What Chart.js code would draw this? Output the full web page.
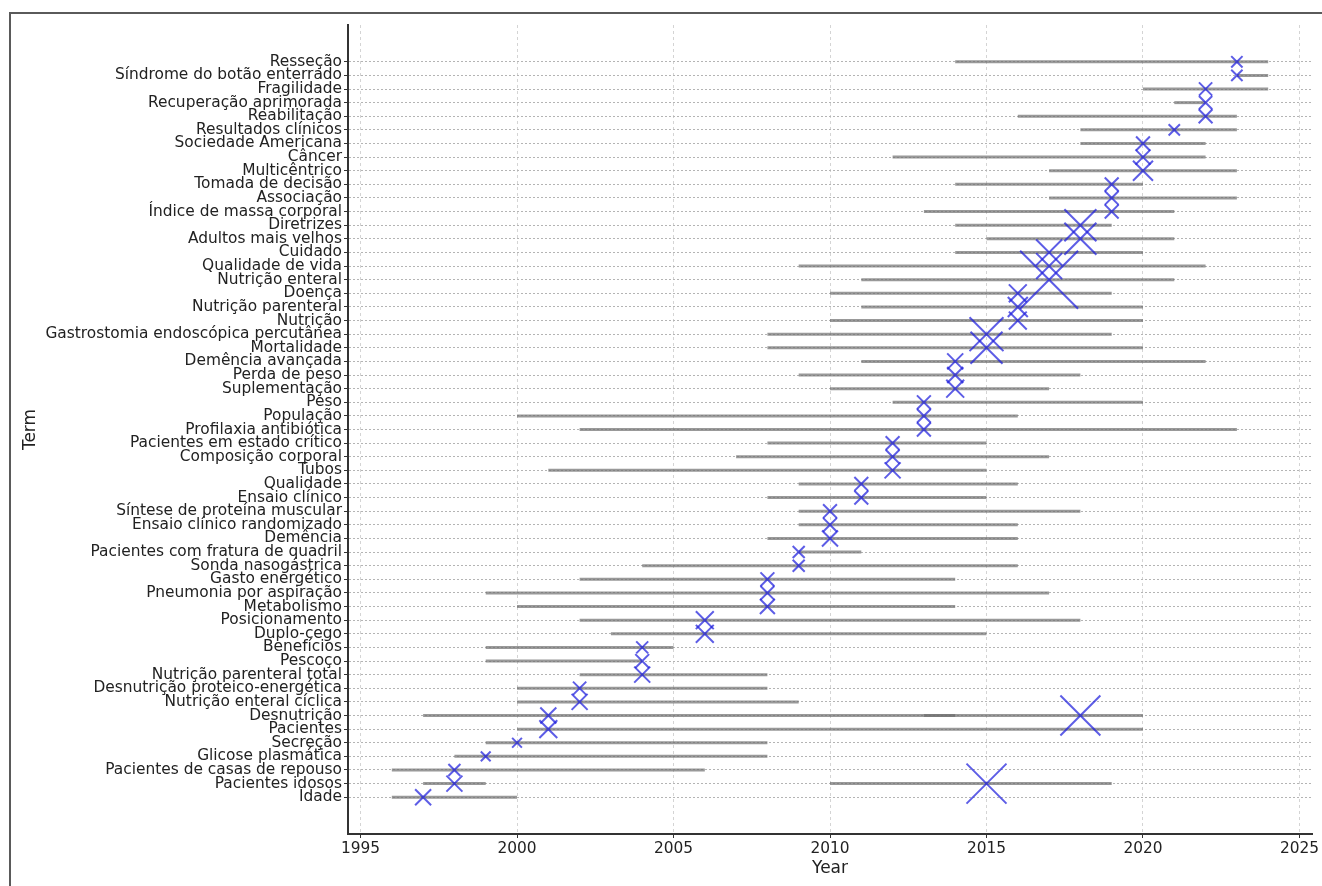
<!DOCTYPE html>
<html>
<head>
<meta charset="utf-8">
<script src="https://cdn.jsdelivr.net/npm/chart.js@4/dist/chart.umd.min.js"></script>
<style>
  html, body { margin: 0; padding: 0; background: #fff; }
  #wrap { position: relative; width: 1322px; height: 886px; overflow: hidden; background: #fff; }
  #frame { position: absolute; left: 9px; top: 12px; width: 1400px; height: 1000px;
           border-top: 2px solid #5a5a5a; border-left: 2px solid #5a5a5a; box-sizing: border-box; }
  canvas { position: absolute; left: 0; top: 0; }
</style>
</head>
<body>
<div id="wrap">
  <div id="frame"></div>
  <canvas id="chart" width="1322" height="886"></canvas>
</div>
<script>
// Trend topics: one entry per term, ordered by median year (bottom to top)
const terms = [
  "Idade", "Pacientes idosos", "Pacientes de casas de repouso", "Glicose plasmática", "Secreção",
  "Pacientes", "Desnutrição", "Nutrição enteral cíclica", "Desnutrição proteico-energética",
  "Nutrição parenteral total", "Pescoço", "Benefícios", "Duplo-cego", "Posicionamento",
  "Metabolismo", "Pneumonia por aspiração", "Gasto energético", "Sonda nasogástrica",
  "Pacientes com fratura de quadril", "Demência", "Ensaio clínico randomizado",
  "Síntese de proteína muscular", "Ensaio clínico", "Qualidade", "Tubos", "Composição corporal",
  "Pacientes em estado crítico", "Profilaxia antibiótica", "População", "Peso", "Suplementação",
  "Perda de peso", "Demência avançada", "Mortalidade", "Gastrostomia endoscópica percutânea",
  "Pacientes idosos", "Nutrição", "Nutrição parenteral", "Doença", "Nutrição enteral",
  "Qualidade de vida", "Cuidado", "Adultos mais velhos", "Diretrizes", "Desnutrição",
  "Índice de massa corporal", "Associação", "Tomada de decisão", "Multicêntrico", "Câncer",
  "Sociedade Americana", "Resultados clínicos", "Reabilitação", "Recuperação aprimorada",
  "Fragilidade", "Síndrome do botão enterrado", "Resseção"
];

// First-quartile year of each term
const yearStart = [
  1996, 1997, 1996, 1998, 1999, 2000, 1997, 2000, 2000, 2002, 1999, 1999, 2003, 2002, 2000,
  1999, 2002, 2004, 2009, 2008, 2009, 2009, 2008, 2009, 2001, 2007, 2008, 2002, 2000, 2012,
  2010, 2009, 2011, 2008, 2008, 2010, 2010, 2011, 2010, 2011, 2009, 2014, 2015, 2014, 2013,
  2013, 2017, 2014, 2017, 2012, 2018, 2018, 2016, 2021, 2020, 2023, 2014
];

// Third-quartile year of each term
const yearEnd = [
  2000, 1999, 2006, 2008, 2008, 2020, 2020, 2009, 2008, 2008, 2004, 2005, 2015, 2018, 2014,
  2017, 2014, 2016, 2011, 2016, 2016, 2018, 2015, 2016, 2015, 2017, 2015, 2023, 2016, 2020,
  2017, 2018, 2022, 2020, 2019, 2019, 2020, 2020, 2019, 2021, 2022, 2020, 2021, 2019, 2014,
  2021, 2023, 2020, 2023, 2022, 2022, 2023, 2023, 2022, 2024, 2024, 2024
];

// Median year of each term
const yearMedian = [
  1997, 1998, 1998, 1999, 2000, 2001, 2001, 2002, 2002, 2004, 2004, 2004, 2006, 2006, 2008,
  2008, 2008, 2009, 2009, 2010, 2010, 2010, 2011, 2011, 2012, 2012, 2012, 2013, 2013, 2013,
  2014, 2014, 2014, 2015, 2015, 2015, 2016, 2016, 2016, 2017, 2017, 2017, 2018, 2018, 2018,
  2019, 2019, 2019, 2020, 2020, 2020, 2021, 2022, 2022, 2022, 2023, 2023
];

// Term frequency
const freq = [
  16, 16, 9, 6, 6, 20, 16, 16, 11, 16, 12, 9, 20, 20, 14,
  12, 12, 9, 9, 16, 12, 12, 12, 12, 16, 12, 12, 12, 12, 12,
  20, 16, 16, 64, 72, 100, 20, 25, 20, 210, 42, 42, 64, 64, 100,
  12, 12, 12, 25, 14, 12, 8, 12, 11, 11, 8, 8
];

const yearTicks = [1995, 2000, 2005, 2010, 2015, 2020, 2025];

// Category rows: each distinct term in order of first appearance
const categories = [];
terms.forEach(t => { if (!categories.includes(t)) categories.push(t); });
const rowOf = t => categories.indexOf(t);

const markerRadius = f => (2 * Math.sqrt(f)) / Math.SQRT1_2;

const lineColor = 'rgba(110,110,110,0.7)';
const markerColor = 'rgba(30,30,220,0.72)';
const textColor = '#222';
const font = { family: '"DejaVu Sans", sans-serif', size: 15.4 };

const datasets = [];

datasets.push({
  type: 'scatter',
  label: 'median',
  order: 0,
  data: terms.map((t, i) => ({ x: yearMedian[i], y: rowOf(t) })),
  pointStyle: 'crossRot',
  pointRadius: ctx => markerRadius(freq[ctx.dataIndex]),
  pointBorderWidth: 2,
  pointBorderColor: markerColor,
  pointBackgroundColor: 'rgba(0,0,0,0)',
  showLine: false
});

terms.forEach((t, i) => {
  datasets.push({
    type: 'scatter',
    label: t,
    order: 1,
    data: [{ x: yearStart[i], y: rowOf(t) }, { x: yearEnd[i], y: rowOf(t) }],
    showLine: true,
    borderColor: lineColor,
    borderWidth: 3,
    borderCapStyle: 'butt',
    pointRadius: 0,
    pointHoverRadius: 0
  });
});

new Chart(document.getElementById('chart'), {
  type: 'scatter',
  data: { datasets },
  options: {
    responsive: false,
    animation: false,
    devicePixelRatio: 1,
    events: [],
    layout: { autoPadding: false, padding: { top: 25, right: 10, left: 0, bottom: 0 } },
    plugins: { legend: { display: false }, tooltip: { enabled: false } },
    scales: {
      x: {
        type: 'linear',
        position: 'bottom',
        min: 1994.6,
        max: 2025.4,
        afterBuildTicks: s => { s.ticks = yearTicks.map(v => ({ value: v })); },
        afterFit: s => { s.height = 52; s.paddingLeft = 0; s.paddingRight = 0; },
        ticks: {
          autoSkip: false, maxRotation: 0, padding: 2,
          color: textColor, font,
          callback: v => String(v)
        },
        grid: {
          color: '#d4d4d4', lineWidth: 1,
          drawTicks: true, tickLength: 4, tickColor: '#333', tickWidth: 1
        },
        border: { display: true, color: '#333', width: 2, dash: [3, 3] },
        title: {
          display: true, text: 'Year', color: textColor,
          font: { family: '"DejaVu Sans", sans-serif', size: 17 },
          padding: { top: 0, bottom: 7 }
        }
      },
      y: {
        type: 'linear',
        min: -2.7,
        max: 56.7,
        afterBuildTicks: s => { s.ticks = categories.map((_, i) => ({ value: i })); },
        afterFit: s => { s.width = 348; s.paddingTop = 0; s.paddingBottom = 0; },
        ticks: {
          autoSkip: false, padding: 2,
          color: textColor, font,
          callback: v => categories[v]
        },
        grid: {
          color: '#b4b4b4', lineWidth: 1,
          drawTicks: true, tickLength: 4, tickColor: '#333', tickWidth: 1
        },
        border: { display: true, color: '#333', width: 2, dash: [2, 2] },
        title: {
          display: true, text: 'Term', color: textColor,
          font: { family: '"DejaVu Sans", sans-serif', size: 17 },
          padding: { top: 20, bottom: 0 }
        }
      }
    }
  }
});
</script>
</body>
</html>
